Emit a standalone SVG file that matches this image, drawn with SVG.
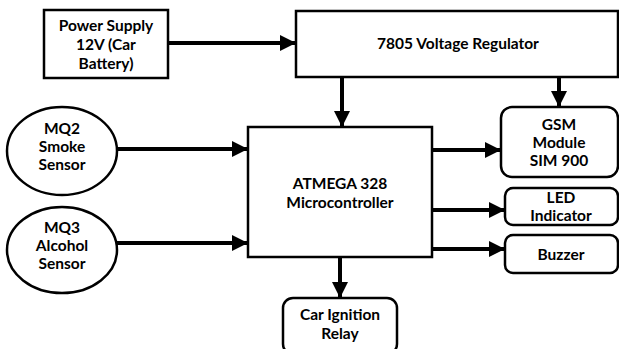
<svg xmlns="http://www.w3.org/2000/svg" width="619" height="349" viewBox="0 0 619 349">
<defs>
<marker id="ah" markerWidth="4" markerHeight="4" refX="4" refY="2" orient="auto" markerUnits="strokeWidth">
<path d="M0,0 L4,2 L0,4 Z" fill="#000"/>
</marker>
<style>
.box{fill:#fff;stroke:#000;stroke-width:2.5}
.t{font-family:Lato,"Open Sans","Liberation Sans",sans-serif;font-weight:bold;font-size:15.5px;fill:#000;text-anchor:middle}
.c{stroke:#000;stroke-width:4;fill:none;marker-end:url(#ah)}
</style>
</defs>
<rect width="619" height="349" fill="#fff"/>
<g id="connectors">
<line class="c" x1="168" y1="43" x2="296" y2="43"/>
<line class="c" x1="342" y1="77" x2="342" y2="127"/>
<line class="c" x1="559" y1="77" x2="559" y2="107"/>
<line class="c" x1="117" y1="149" x2="248" y2="149"/>
<line class="c" x1="117" y1="243" x2="248" y2="243"/>
<line class="c" x1="432" y1="150" x2="501" y2="150"/>
<line class="c" x1="432" y1="210" x2="505" y2="210"/>
<line class="c" x1="432" y1="249" x2="505" y2="249"/>
<line class="c" x1="340" y1="257" x2="340" y2="298"/>
</g>
<g id="power">
<rect class="box" x="44" y="10" width="124" height="68"/>
<text class="t" x="106" y="31">Power Supply</text>
<text class="t" x="106" y="50">12V (Car</text>
<text class="t" x="106" y="69">Battery)</text>
</g>
<g id="regulator">
<rect class="box" x="296" y="11" width="322" height="66"/>
<text class="t" x="458" y="49">7805 Voltage Regulator</text>
</g>
<g id="mq2">
<ellipse class="box" cx="62" cy="151" rx="55" ry="44"/>
<text class="t" x="62" y="134">MQ2</text>
<text class="t" x="62" y="152">Smoke</text>
<text class="t" x="62" y="170">Sensor</text>
</g>
<g id="mq3">
<ellipse class="box" cx="62" cy="250" rx="55" ry="43"/>
<text class="t" x="62" y="233">MQ3</text>
<text class="t" x="62" y="251">Alcohol</text>
<text class="t" x="62" y="269">Sensor</text>
</g>
<g id="micro">
<rect class="box" x="248" y="127" width="184" height="130"/>
<text class="t" x="340" y="189">ATMEGA 328</text>
<text class="t" x="340" y="208">Microcontroller</text>
</g>
<g id="gsm">
<rect class="box" x="501" y="107" width="117" height="70" rx="11"/>
<text class="t" x="559" y="130">GSM</text>
<text class="t" x="559" y="148">Module</text>
<text class="t" x="559" y="166">SIM 900</text>
</g>
<g id="led">
<rect class="box" x="505" y="188" width="113" height="37" rx="8"/>
<text class="t" x="561" y="203">LED</text>
<text class="t" x="561" y="221">Indicator</text>
</g>
<g id="buzzer">
<rect class="box" x="505" y="235" width="113" height="38" rx="8"/>
<text class="t" x="561" y="260">Buzzer</text>
</g>
<g id="relay">
<rect class="box" x="283" y="298" width="114" height="56" rx="10"/>
<text class="t" x="340" y="320">Car Ignition</text>
<text class="t" x="340" y="339">Relay</text>
</g>
</svg>
